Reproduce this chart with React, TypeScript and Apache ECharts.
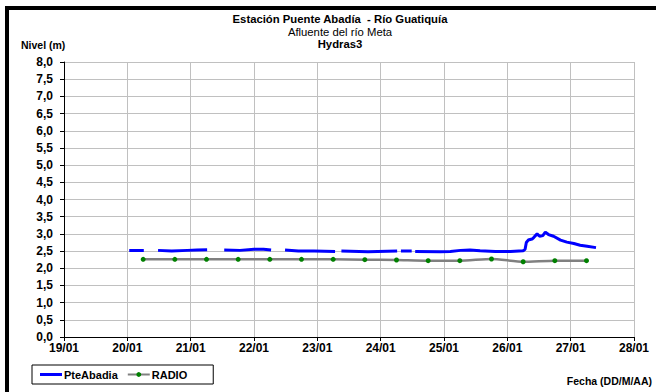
import React, { useEffect, useRef } from "react";
import * as echarts from "echarts";

const xTickLabels = ["19/01", "20/01", "21/01", "22/01", "23/01", "24/01", "25/01", "26/01", "27/01", "28/01"];

// days counted from 19/01 00:00; null = gap in record
const pteDays = [
  1.03, 1.26, 1.37,
  1.485, 1.7, 1.95, 2.1, 2.26, 2.4,
  2.53, 2.78, 3.0, 3.15, 3.27, 3.38,
  3.49, 3.7, 3.95, 4.28, 4.33,
  4.38, 4.8, 5.26, 5.29,
  5.32, 5.49, 5.52,
  5.545, 5.94, 6.1, 6.26, 6.41, 6.57, 6.81, 7.05, 7.25, 7.28, 7.3, 7.33, 7.39, 7.42, 7.47, 7.51, 7.56, 7.6, 7.65, 7.73, 7.84, 7.94, 8.05, 8.15, 8.26, 8.4,
];
const pteLevels = [
  2.52, 2.52, null,
  2.52, 2.5, 2.52, 2.53, 2.54, null,
  2.53, 2.52, 2.55, 2.55, 2.53, null,
  2.53, 2.5, 2.5, 2.49, null,
  2.5, 2.48, 2.5, null,
  2.5, 2.5, null,
  2.49, 2.48, 2.49, 2.52, 2.53, 2.51, 2.49, 2.49, 2.51, 2.55, 2.75, 2.82, 2.85, 2.9, 3.0, 2.93, 2.95, 3.05, 2.98, 2.93, 2.82, 2.76, 2.72, 2.67, 2.64, 2.6,
];

const radioDays = [1.25, 1.75, 2.25, 2.75, 3.25, 3.75, 4.25, 4.75, 5.25, 5.75, 6.25, 6.75, 7.25, 7.75, 8.25];
const radioLevels = [2.26, 2.26, 2.26, 2.26, 2.26, 2.26, 2.26, 2.25, 2.24, 2.22, 2.22, 2.27, 2.19, 2.22, 2.22];

const FONT = "'Liberation Sans', Arial, sans-serif";

export default function App() {
  const ref = useRef<HTMLDivElement>(null);
  useEffect(() => {
    document.body.style.margin = "0";
    const chart = echarts.init(ref.current!, null, { renderer: "svg" });
    chart.setOption({
      animation: false,
      backgroundColor: "#ffffff",
      textStyle: { fontFamily: FONT },
      grid: { left: 64, right: 22, top: 62, bottom: 55, containLabel: false },
      legend: {
        left: 32,
        top: 365,
        orient: "horizontal",
        borderColor: "#000",
        borderWidth: 1,
        borderRadius: 0,
        padding: [4, 26, 4, 8],
        itemGap: 9,
        itemWidth: 22,
        itemHeight: 6,
        textStyle: { fontFamily: FONT, fontWeight: "bold", fontSize: 11, color: "#000", padding: [0, 0, 0, -3] },
        data: [{ name: "PteAbadia", icon: "path://M0,0H22V3H0Z" }, "RADIO"],
      },
      xAxis: {
        type: "value",
        min: 0,
        max: xTickLabels.length - 1,
        interval: 1,
        axisLine: { lineStyle: { color: "#000", width: 1 } },
        axisTick: { show: true, length: 4, lineStyle: { color: "#000" } },
        axisLabel: {
          formatter: (v: number) => xTickLabels[Math.round(v)] ?? "",
          color: "#000",
          fontWeight: "bold",
          fontSize: 12,
          fontFamily: FONT,
          margin: 5,
        },
        splitLine: { show: true, lineStyle: { color: "#c0c0c0", width: 1 } },
      },
      yAxis: {
        type: "value",
        min: 0,
        max: 8,
        interval: 0.5,
        axisLine: { show: true, lineStyle: { color: "#000", width: 1 } },
        axisTick: { show: true, length: 4, lineStyle: { color: "#000" } },
        axisLabel: {
          formatter: (v: number) => v.toFixed(1).replace(".", ","),
          color: "#000",
          fontWeight: "bold",
          fontSize: 12,
          fontFamily: FONT,
          margin: 11,
        },
        splitLine: { show: true, lineStyle: { color: "#c0c0c0", width: 1 } },
      },
      series: [
        {
          name: "PteAbadia",
          type: "line",
          symbol: "none",
          connectNulls: false,
          lineStyle: { color: "#0000ff", width: 3 },
          itemStyle: { color: "#0000ff" },
          data: pteDays.map((d, i) => [d, pteLevels[i] === null ? "-" : pteLevels[i]]),
          z: 3,
        },
        {
          name: "RADIO",
          type: "line",
          symbol: "circle",
          symbolSize: 5,
          smooth: 0.2,
          lineStyle: { color: "#808080", width: 2.5 },
          itemStyle: { color: "#008000", borderWidth: 0 },
          data: radioDays.map((d, i) => [d, radioLevels[i]]),
          z: 2,
        },
      ],
      graphic: [
        {
          type: "rect",
          shape: { x: 7, y: 8, width: 800, height: 600 },
          style: { fill: "none", stroke: "#000", lineWidth: 4 },
          silent: true,
        },
        {
          type: "text",
          x: 340,
          y: 19,
          style: { text: "Estación Puente Abadía  - Río Guatiquía", fill: "#000", font: `bold 11.3px ${FONT}`, textAlign: "center", textVerticalAlign: "middle" },
        },
        {
          type: "text",
          x: 340,
          y: 32,
          style: { text: "Afluente del río Meta", fill: "#000", font: `11.3px ${FONT}`, textAlign: "center", textVerticalAlign: "middle" },
        },
        {
          type: "text",
          x: 340,
          y: 44,
          style: { text: "Hydras3", fill: "#000", font: `bold 11.3px ${FONT}`, textAlign: "center", textVerticalAlign: "middle" },
        },
        {
          type: "text",
          x: 21,
          y: 45,
          style: { text: "Nivel (m)", fill: "#000", font: `bold 10.5px ${FONT}`, textAlign: "left", textVerticalAlign: "middle" },
        },
        {
          type: "text",
          x: 652,
          y: 381,
          style: { text: "Fecha (DD/M/AA)", fill: "#000", font: `bold 10.5px ${FONT}`, textAlign: "right", textVerticalAlign: "middle" },
        },
      ],
    });
    return () => chart.dispose();
  }, []);
  return <div ref={ref} style={{ position: "absolute", left: 0, top: 0, width: 656, height: 392 }} />;
}
